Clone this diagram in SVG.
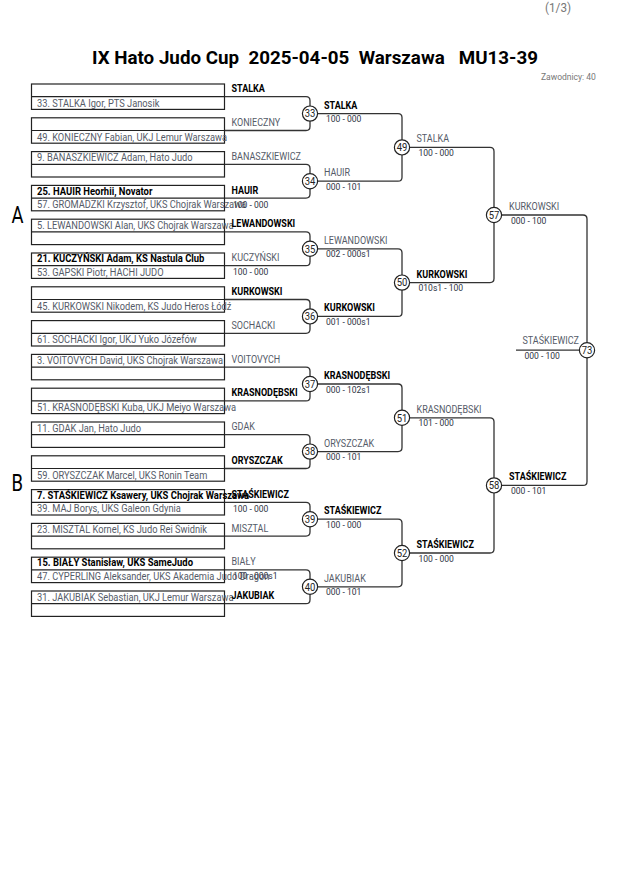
<svg xmlns="http://www.w3.org/2000/svg" width="630" height="891" viewBox="0 0 630 891">
<style>
.bg{fill:#fff}
.box{fill:none;stroke:#222;stroke-width:1.2}
.cn{fill:none;stroke:#333;stroke-width:1.3}
.t{font-family:Roboto,"Liberation Sans",sans-serif;font-size:10px;fill:#555b68}
.b{font-weight:bold;fill:#000}
.s{font-size:9.5px;fill:#2e3444}
.mc{fill:#fff;stroke:#222;stroke-width:1.2}
.mn{font-family:Roboto,"Liberation Sans",sans-serif;font-size:10.5px;fill:#222;text-anchor:middle}
.hd{font-family:Roboto,"Liberation Sans",sans-serif;fill:#777}
.gl{font-family:Roboto,"Liberation Sans",sans-serif;font-size:23px;fill:#000}
</style>
<rect class="bg" x="0" y="0" width="630" height="891"/>
<g id="header">
<text class="hd" font-size="13" transform="translate(545 12) scale(.9 1)">(1/3)</text>
<text x="315" y="64" text-anchor="middle" font-family="Roboto, 'Liberation Sans', sans-serif" font-weight="bold" font-size="19" fill="#000" textLength="446" lengthAdjust="spacingAndGlyphs" xml:space="preserve">IX Hato Judo Cup  2025-04-05  Warszawa   MU13-39</text>
<text class="hd" font-size="9.5" transform="translate(541 80) scale(.9 1)">Zawodnicy: 40</text>
<text class="gl" transform="translate(11.5 222.5) scale(.8 1)">A</text>
<text class="gl" transform="translate(11.5 490.5) scale(.8 1)">B</text>
</g>
<g id="connectors">
<path class="cn" d="M224.5 96.7H306q4 0 4 4V126.5q0 4-4 4H224.5"/>
<path class="cn" d="M224.5 164.3H306q4 0 4 4V194.1q0 4-4 4H224.5"/>
<path class="cn" d="M224.5 231.9H306q4 0 4 4V261.7q0 4-4 4H224.5"/>
<path class="cn" d="M224.5 299.5H306q4 0 4 4V329.3q0 4-4 4H224.5"/>
<path class="cn" d="M224.5 367.1H306q4 0 4 4V396.9q0 4-4 4H224.5"/>
<path class="cn" d="M224.5 434.7H306q4 0 4 4V464.5q0 4-4 4H224.5"/>
<path class="cn" d="M224.5 502.3H306q4 0 4 4V532.1q0 4-4 4H224.5"/>
<path class="cn" d="M224.5 569.9H306q4 0 4 4V599.7q0 4-4 4H224.5"/>
<path class="cn" d="M310 113.6H398q4 0 4 4V177.2q0 4-4 4H310"/>
<path class="cn" d="M310 248.8H398q4 0 4 4V312.4q0 4-4 4H310"/>
<path class="cn" d="M310 384H398q4 0 4 4V447.6q0 4-4 4H310"/>
<path class="cn" d="M310 519.2H398q4 0 4 4V582.8q0 4-4 4H310"/>
<path class="cn" d="M402 147.4H490q4 0 4 4V278.6q0 4-4 4H402"/>
<path class="cn" d="M402 417.8H490q4 0 4 4V549q0 4-4 4H402"/>
<path class="cn" d="M494 215H583q4 0 4 4V481.4q0 4-4 4H494"/>
<path class="cn" d="M516 350.2H587"/>
</g>
<g id="slot-0">
<rect class="box" x="31.5" y="84" width="193" height="25.4"/><path class="box" d="M31.5 96.7H224.5"/>
<text class="t" transform="translate(37 106.7) scale(.93 1)">33. STALKA Igor, PTS Janosik</text>
<text class="t b" transform="translate(231.5 92.2) scale(.9 1)">STALKA</text>
</g>
<g id="slot-1">
<rect class="box" x="31.5" y="117.8" width="193" height="25.4"/><path class="box" d="M31.5 130.5H224.5"/>
<text class="t" transform="translate(37 140.5) scale(.93 1)">49. KONIECZNY Fabian, UKJ Lemur Warszawa</text>
<text class="t" transform="translate(231.5 126) scale(.9 1)">KONIECZNY</text>
</g>
<g id="slot-2">
<rect class="box" x="31.5" y="151.6" width="193" height="25.4"/><path class="box" d="M31.5 164.3H224.5"/>
<text class="t" transform="translate(37 161.3) scale(.93 1)">9. BANASZKIEWICZ Adam, Hato Judo</text>
<text class="t" transform="translate(231.5 159.8) scale(.9 1)">BANASZKIEWICZ</text>
</g>
<g id="slot-3">
<rect class="box" x="31.5" y="185.4" width="193" height="25.4"/><path class="box" d="M31.5 198.1H224.5"/>
<text class="t b" transform="translate(37 194.6) scale(.945 1)">25. HAUIR Heorhii, Novator</text>
<text class="t" transform="translate(37 208.1) scale(.93 1)">57. GROMADZKI Krzysztof, UKS Chojrak Warszawa</text>
<text class="t b" transform="translate(231.5 193.6) scale(.9 1)">HAUIR</text>
<text class="t s" transform="translate(233 207.6) scale(.9 1)">100 - 000</text>
</g>
<g id="slot-4">
<rect class="box" x="31.5" y="219.2" width="193" height="25.4"/><path class="box" d="M31.5 231.9H224.5"/>
<text class="t" transform="translate(37 228.9) scale(.93 1)">5. LEWANDOWSKI Alan, UKS Chojrak Warszawa</text>
<text class="t b" transform="translate(231.5 227.4) scale(.9 1)">LEWANDOWSKI</text>
</g>
<g id="slot-5">
<rect class="box" x="31.5" y="253" width="193" height="25.4"/><path class="box" d="M31.5 265.7H224.5"/>
<text class="t b" transform="translate(37 262.2) scale(.945 1)">21. KUCZYŃSKI Adam, KS Nastula Club</text>
<text class="t" transform="translate(37 275.7) scale(.93 1)">53. GAPSKI Piotr, HACHI JUDO</text>
<text class="t" transform="translate(231.5 261.2) scale(.9 1)">KUCZYŃSKI</text>
<text class="t s" transform="translate(233 275.2) scale(.9 1)">100 - 000</text>
</g>
<g id="slot-6">
<rect class="box" x="31.5" y="286.8" width="193" height="25.4"/><path class="box" d="M31.5 299.5H224.5"/>
<text class="t" transform="translate(37 309.5) scale(.93 1)">45. KURKOWSKI Nikodem, KS Judo Heros Łódź</text>
<text class="t b" transform="translate(231.5 295) scale(.9 1)">KURKOWSKI</text>
</g>
<g id="slot-7">
<rect class="box" x="31.5" y="320.6" width="193" height="25.4"/><path class="box" d="M31.5 333.3H224.5"/>
<text class="t" transform="translate(37 343.3) scale(.93 1)">61. SOCHACKI Igor, UKJ Yuko Józefów</text>
<text class="t" transform="translate(231.5 328.8) scale(.9 1)">SOCHACKI</text>
</g>
<g id="slot-8">
<rect class="box" x="31.5" y="354.4" width="193" height="25.4"/><path class="box" d="M31.5 367.1H224.5"/>
<text class="t" transform="translate(37 364.1) scale(.93 1)">3. VOITOVYCH David, UKS Chojrak Warszawa</text>
<text class="t" transform="translate(231.5 362.6) scale(.9 1)">VOITOVYCH</text>
</g>
<g id="slot-9">
<rect class="box" x="31.5" y="388.2" width="193" height="25.4"/><path class="box" d="M31.5 400.9H224.5"/>
<text class="t" transform="translate(37 410.9) scale(.93 1)">51. KRASNODĘBSKI Kuba, UKJ Meiyo Warszawa</text>
<text class="t b" transform="translate(231.5 396.4) scale(.9 1)">KRASNODĘBSKI</text>
</g>
<g id="slot-10">
<rect class="box" x="31.5" y="422" width="193" height="25.4"/><path class="box" d="M31.5 434.7H224.5"/>
<text class="t" transform="translate(37 431.7) scale(.93 1)">11. GDAK Jan, Hato Judo</text>
<text class="t" transform="translate(231.5 430.2) scale(.9 1)">GDAK</text>
</g>
<g id="slot-11">
<rect class="box" x="31.5" y="455.8" width="193" height="25.4"/><path class="box" d="M31.5 468.5H224.5"/>
<text class="t" transform="translate(37 478.5) scale(.93 1)">59. ORYSZCZAK Marcel, UKS Ronin Team</text>
<text class="t b" transform="translate(231.5 464) scale(.9 1)">ORYSZCZAK</text>
</g>
<g id="slot-12">
<rect class="box" x="31.5" y="489.6" width="193" height="25.4"/><path class="box" d="M31.5 502.3H224.5"/>
<text class="t b" transform="translate(37 498.8) scale(.945 1)">7. STAŚKIEWICZ Ksawery, UKS Chojrak Warszawa</text>
<text class="t" transform="translate(37 512.3) scale(.93 1)">39. MAJ Borys, UKS Galeon Gdynia</text>
<text class="t b" transform="translate(231.5 497.8) scale(.9 1)">STAŚKIEWICZ</text>
<text class="t s" transform="translate(233 511.8) scale(.9 1)">100 - 000</text>
</g>
<g id="slot-13">
<rect class="box" x="31.5" y="523.4" width="193" height="25.4"/><path class="box" d="M31.5 536.1H224.5"/>
<text class="t" transform="translate(37 533.1) scale(.93 1)">23. MISZTAL Kornel, KS Judo Rei Świdnik</text>
<text class="t" transform="translate(231.5 531.6) scale(.9 1)">MISZTAL</text>
</g>
<g id="slot-14">
<rect class="box" x="31.5" y="557.2" width="193" height="25.4"/><path class="box" d="M31.5 569.9H224.5"/>
<text class="t b" transform="translate(37 566.4) scale(.945 1)">15. BIAŁY Stanisław, UKS SameJudo</text>
<text class="t" transform="translate(37 579.9) scale(.93 1)">47. CYPERLING Aleksander, UKS Akademia Judo Dragon</text>
<text class="t" transform="translate(231.5 565.4) scale(.9 1)">BIAŁY</text>
<text class="t s" transform="translate(233 579.4) scale(.9 1)">100 - 000s1</text>
</g>
<g id="slot-15">
<rect class="box" x="31.5" y="591" width="193" height="25.4"/><path class="box" d="M31.5 603.7H224.5"/>
<text class="t" transform="translate(37 600.7) scale(.93 1)">31. JAKUBIAK Sebastian, UKJ Lemur Warszawa</text>
<text class="t b" transform="translate(231.5 599.2) scale(.9 1)">JAKUBIAK</text>
</g>
<g id="m33"><circle class="mc" cx="310" cy="113.6" r="7.6"/><text class="mn" transform="translate(310 117.3) scale(.9 1)">33</text>
<text class="t b" transform="translate(324 108.6) scale(.9 1)">STALKA</text><text class="t s" transform="translate(326 122.1) scale(.9 1)">100 - 000</text></g>
<g id="m34"><circle class="mc" cx="310" cy="181.2" r="7.6"/><text class="mn" transform="translate(310 184.9) scale(.9 1)">34</text>
<text class="t" transform="translate(324 176.2) scale(.9 1)">HAUIR</text><text class="t s" transform="translate(326 189.7) scale(.9 1)">000 - 101</text></g>
<g id="m35"><circle class="mc" cx="310" cy="248.8" r="7.6"/><text class="mn" transform="translate(310 252.5) scale(.9 1)">35</text>
<text class="t" transform="translate(324 243.8) scale(.9 1)">LEWANDOWSKI</text><text class="t s" transform="translate(326 257.3) scale(.9 1)">002 - 000s1</text></g>
<g id="m36"><circle class="mc" cx="310" cy="316.4" r="7.6"/><text class="mn" transform="translate(310 320.1) scale(.9 1)">36</text>
<text class="t b" transform="translate(324 311.4) scale(.9 1)">KURKOWSKI</text><text class="t s" transform="translate(326 324.9) scale(.9 1)">001 - 000s1</text></g>
<g id="m37"><circle class="mc" cx="310" cy="384" r="7.6"/><text class="mn" transform="translate(310 387.7) scale(.9 1)">37</text>
<text class="t b" transform="translate(324 379) scale(.9 1)">KRASNODĘBSKI</text><text class="t s" transform="translate(326 392.5) scale(.9 1)">000 - 102s1</text></g>
<g id="m38"><circle class="mc" cx="310" cy="451.6" r="7.6"/><text class="mn" transform="translate(310 455.3) scale(.9 1)">38</text>
<text class="t" transform="translate(324 446.6) scale(.9 1)">ORYSZCZAK</text><text class="t s" transform="translate(326 460.1) scale(.9 1)">000 - 101</text></g>
<g id="m39"><circle class="mc" cx="310" cy="519.2" r="7.6"/><text class="mn" transform="translate(310 522.9) scale(.9 1)">39</text>
<text class="t b" transform="translate(324 514.2) scale(.9 1)">STAŚKIEWICZ</text><text class="t s" transform="translate(326 527.7) scale(.9 1)">100 - 000</text></g>
<g id="m40"><circle class="mc" cx="310" cy="586.8" r="7.6"/><text class="mn" transform="translate(310 590.5) scale(.9 1)">40</text>
<text class="t" transform="translate(324 581.8) scale(.9 1)">JAKUBIAK</text><text class="t s" transform="translate(326 595.3) scale(.9 1)">000 - 101</text></g>
<g id="m49"><circle class="mc" cx="402" cy="147.4" r="7.6"/><text class="mn" transform="translate(402 151.1) scale(.9 1)">49</text>
<text class="t" transform="translate(416.5 142.4) scale(.9 1)">STALKA</text><text class="t s" transform="translate(418.5 155.9) scale(.9 1)">100 - 000</text></g>
<g id="m50"><circle class="mc" cx="402" cy="282.6" r="7.6"/><text class="mn" transform="translate(402 286.3) scale(.9 1)">50</text>
<text class="t b" transform="translate(416.5 277.6) scale(.9 1)">KURKOWSKI</text><text class="t s" transform="translate(418.5 291.1) scale(.9 1)">010s1 - 100</text></g>
<g id="m51"><circle class="mc" cx="402" cy="417.8" r="7.6"/><text class="mn" transform="translate(402 421.5) scale(.9 1)">51</text>
<text class="t" transform="translate(416.5 412.8) scale(.9 1)">KRASNODĘBSKI</text><text class="t s" transform="translate(418.5 426.3) scale(.9 1)">101 - 000</text></g>
<g id="m52"><circle class="mc" cx="402" cy="553" r="7.6"/><text class="mn" transform="translate(402 556.7) scale(.9 1)">52</text>
<text class="t b" transform="translate(416.5 548) scale(.9 1)">STAŚKIEWICZ</text><text class="t s" transform="translate(418.5 561.5) scale(.9 1)">100 - 000</text></g>
<g id="m57"><circle class="mc" cx="494" cy="215" r="7.6"/><text class="mn" transform="translate(494 218.7) scale(.9 1)">57</text>
<text class="t" transform="translate(509 210) scale(.9 1)">KURKOWSKI</text><text class="t s" transform="translate(511 223.5) scale(.9 1)">000 - 100</text></g>
<g id="m58"><circle class="mc" cx="494" cy="485.4" r="7.6"/><text class="mn" transform="translate(494 489.1) scale(.9 1)">58</text>
<text class="t b" transform="translate(509 480.4) scale(.9 1)">STAŚKIEWICZ</text><text class="t s" transform="translate(511 493.9) scale(.9 1)">000 - 101</text></g>
<g id="m73"><circle class="mc" cx="587" cy="350.2" r="7.6"/><text class="mn" transform="translate(587 353.9) scale(.9 1)">73</text>
<text class="t" transform="translate(522.5 344.2) scale(.9 1)">STAŚKIEWICZ</text><text class="t s" transform="translate(524.5 358.7) scale(.9 1)">000 - 100</text></g>
</svg>
